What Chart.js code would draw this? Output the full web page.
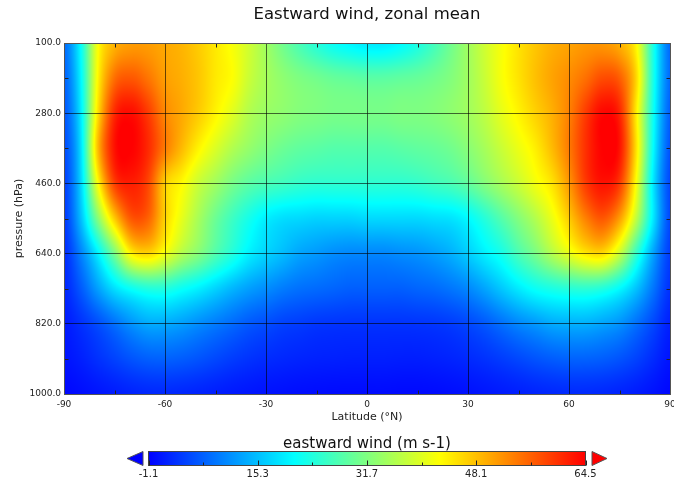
<!DOCTYPE html>
<html>
<head>
<meta charset="utf-8">
<script src="https://cdn.jsdelivr.net/npm/chart.js@4.4.1/dist/chart.umd.min.js"></script>
<style>
  html, body { margin: 0; padding: 0; background: #ffffff; }
  #wrap { width: 674px; height: 485px; position: relative; }
</style>
</head>
<body>
<div id="wrap"><canvas id="chart" width="674" height="485"></canvas></div>
<script>
// Zonal-mean eastward wind (m s-1) on a latitude / pressure grid
const latitudes = [-90, -85, -80, -75, -70, -65, -60, -55, -50, -45, -40, -35, -30, -25, -20, -15, -10, -5, 0,
                   5, 10, 15, 20, 25, 30, 35, 40, 45, 50, 55, 60, 65, 70, 75, 80, 85, 90];
const pressureLevels = [100, 190, 280, 370, 460, 550, 640, 730, 820, 910, 1000];

const u100  = [8, 21, 42, 49, 51, 51, 50, 49, 47, 44.5, 42, 38.5, 34.5, 30.5, 27, 24, 21.5, 20, 19,
               19, 20.5, 23, 26.5, 30.5, 34.5, 38.5, 42, 45, 47.5, 49.5, 50.5, 51.5, 51.5, 49.5, 43, 23, 8];
const u190  = [7, 20, 43, 55, 57, 54.5, 51, 49.5, 47.5, 44.5, 42.5, 38, 35, 33, 31.5, 30.5, 29.5, 29, 28.5,
               28.5, 29, 29.5, 30.5, 32, 34.5, 38, 42, 45, 48, 50.5, 52.5, 55, 58, 56.5, 46, 23, 8];
const u280  = [6, 19, 45, 61, 63.5, 59.5, 53, 50, 47, 43.5, 40, 36, 34, 33, 32, 31.5, 31, 31, 31,
               31, 31.5, 31.5, 32, 33, 34.5, 37, 40.5, 43.5, 46.5, 49.5, 53.5, 59.5, 64, 61.5, 44, 22, 7];
const u370  = [5, 18, 48, 63, 64.5, 61, 54, 48.5, 43.5, 39.5, 36, 33.5, 31.5, 30, 29, 28.5, 28, 28, 28,
               28, 28.5, 29, 29.5, 30.5, 32.5, 35, 38, 41, 44, 48.5, 54, 60.5, 64.5, 63, 45, 21, 6];
const u460  = [4, 17, 42, 59, 62, 58.5, 47, 43, 38, 34.5, 31, 28.5, 27, 26, 25, 24.5, 24.5, 24.5, 24.5,
               24.5, 24.5, 25, 26, 27, 29, 32, 35, 38, 41.5, 45, 51.5, 59.5, 63, 59.5, 42, 19, 5];
const u550  = [3.5, 15, 32, 47, 57, 56, 46.5, 40.5, 35, 30, 26, 22.5, 19.5, 18, 17.5, 17, 17, 17, 17.5,
               17.5, 17.5, 17.5, 18, 18.5, 20.5, 24, 28, 32, 36, 41, 47, 53.5, 57, 51, 37, 19, 5];
const u640  = [2.5, 10, 19.5, 31, 43.5, 46, 41.5, 36, 32, 27.5, 23.5, 19.5, 17, 15, 13, 12, 11, 10.5, 10.5,
               10.5, 11, 11.5, 12.5, 14, 16.5, 19.5, 22.5, 27, 31, 36, 40.5, 44.5, 45.5, 38, 25, 13, 4];
const u730  = [2, 6.5, 12.5, 18, 21.5, 23.5, 23.5, 21.5, 19.5, 17, 14.5, 12.5, 11, 9.5, 8.5, 8, 7.5, 7, 7,
               7, 7, 7.5, 8, 9, 10.5, 13, 16, 19, 21.5, 23, 24, 24.5, 23.5, 20.5, 15.5, 9, 3];
const u820  = [1, 3, 5.5, 8.5, 11.5, 13.5, 13.5, 12.5, 11, 9.5, 8, 6.5, 5.5, 4.5, 4, 3.5, 3.3, 3.2, 3.2,
               3.2, 3.2, 3.3, 3.5, 4, 5, 6.5, 8.5, 10.5, 12, 13.5, 14, 14, 13, 11.5, 8.5, 5, 1.5];
const u910  = [0.5, 1.5, 3, 4.5, 6, 7, 7.2, 6.8, 6, 5, 4, 3.2, 2.6, 2.2, 1.9, 1.7, 1.6, 1.5, 1.5,
               1.5, 1.4, 1.4, 1.6, 1.9, 2.4, 3.1, 4, 5, 6, 6.8, 7.3, 7.3, 6.9, 6, 4.5, 2.5, 0.5];
const u1000 = [-0.5, 0, 0.6, 1.2, 1.8, 2.2, 2.3, 2.1, 1.8, 1.4, 1, 0.7, 0.4, 0.2, 0, -0.1, -0.2, -0.2, -0.2,
               -0.2, -0.3, -0.3, -0.2, 0, 0.3, 0.7, 1.1, 1.5, 1.9, 2.2, 2.4, 2.4, 2.2, 1.8, 1.2, 0.4, -0.5];

const windRows = [u100, u190, u280, u370, u460, u550, u640, u730, u820, u910, u1000];

const latitudeTicks = [-90, -60, -30, 0, 30, 60, 90];
const latitudeMinorTicks = [-75, -45, -15, 15, 45, 75];
const pressureTicks = [100, 280, 460, 640, 820, 1000];
const pressureMinorTicks = [190, 370, 550, 730, 910];
const colorbarTicks = [-1.1, 15.3, 31.7, 48.1, 64.5];
const colorRange = [-1.1, 64.5];
const colormapStops = [[0, 0, 255], [0, 255, 255], [255, 255, 0], [255, 0, 0]];

const FONT = 'DejaVu Sans';

function colourOf(v) {
  const t = Math.min(1, Math.max(0, (v - colorRange[0]) / (colorRange[1] - colorRange[0])));
  const n = colormapStops.length - 1;
  const s = t * n;
  const i = Math.min(n - 1, Math.floor(s));
  const f = s - i;
  const a = colormapStops[i], b = colormapStops[i + 1];
  return [a[0] + (b[0] - a[0]) * f, a[1] + (b[1] - a[1]) * f, a[2] + (b[2] - a[2]) * f];
}

// Cubic (Catmull-Rom) weights and clamped neighbour indices for a position on a grid axis
function stencil(arr, v) {
  let i = 0;
  while (i < arr.length - 2 && v > arr[i + 1]) i++;
  const t = Math.min(1, Math.max(0, (v - arr[i]) / (arr[i + 1] - arr[i])));
  const t2 = t * t, t3 = t2 * t;
  const w = [(-t3 + 2 * t2 - t) / 2, (3 * t3 - 5 * t2 + 2) / 2, (-3 * t3 + 4 * t2 + t) / 2, (t3 - t2) / 2];
  const last = arr.length - 1;
  const idx = [Math.max(0, i - 1), i, i + 1, Math.min(last, i + 2)];
  return { idx, w };
}

// Shaded field, drawn first so the grid and axes sit on top of it
const fieldPlugin = {
  id: 'windField',
  beforeDraw(chart) {
    const { ctx, chartArea: a, scales: { x, y } } = chart;
    const x0 = Math.floor(a.left), x1 = Math.ceil(a.right);
    const y0 = Math.floor(a.top), y1 = Math.ceil(a.bottom);
    const w = x1 - x0 + 1, h = y1 - y0 + 1;
    const img = ctx.createImageData(w, h);
    const cols = [];
    for (let i = 0; i < w; i++) cols.push(stencil(latitudes, x.getValueForPixel(x0 + i + 0.5)));
    for (let j = 0; j < h; j++) {
      const rs = stencil(pressureLevels, y.getValueForPixel(y0 + j + 0.5));
      for (let i = 0; i < w; i++) {
        const cs = cols[i];
        let v = 0;
        for (let m = 0; m < 4; m++) {
          const row = windRows[rs.idx[m]];
          let rv = 0;
          for (let n = 0; n < 4; n++) rv += row[cs.idx[n]] * cs.w[n];
          v += rv * rs.w[m];
        }
        const rgb = colourOf(v);
        const k = (j * w + i) * 4;
        img.data[k] = rgb[0]; img.data[k + 1] = rgb[1]; img.data[k + 2] = rgb[2]; img.data[k + 3] = 255;
      }
    }
    ctx.putImageData(img, x0, y0);
  }
};

// Frame, inner minor ticks and the colour bar
const decorPlugin = {
  id: 'decor',
  afterDraw(chart) {
    const { ctx, chartArea: a, scales: { x, y } } = chart;
    ctx.save();
    const L = Math.round(a.left) + 0.5, R = Math.round(a.right) + 0.5;
    const T = Math.round(a.top) + 0.5, B = Math.round(a.bottom) + 0.5;
    ctx.strokeStyle = '#222';
    ctx.lineWidth = 1;
    ctx.beginPath();
    latitudeMinorTicks.forEach(v => {
      const px = Math.round(x.getPixelForValue(v)) + 0.5;
      ctx.moveTo(px, B); ctx.lineTo(px, B - 4);
      ctx.moveTo(px, T); ctx.lineTo(px, T + 4);
    });
    pressureMinorTicks.forEach(v => {
      const py = Math.round(y.getPixelForValue(v)) + 0.5;
      ctx.moveTo(L, py); ctx.lineTo(L + 4, py);
      ctx.moveTo(R, py); ctx.lineTo(R - 4, py);
    });
    ctx.stroke();
    ctx.strokeStyle = '#555';
    ctx.strokeRect(L, T, R - L, B - T);

    // colour bar
    const cb = { left: 148.5, right: 585.5, top: 451.5, bottom: 465.5 };
    const span = colorRange[1] - colorRange[0];
    const toX = v => cb.left + (v - colorRange[0]) / span * (cb.right - cb.left);
    const g = ctx.createLinearGradient(cb.left, 0, cb.right, 0);
    colormapStops.forEach((c, i) => g.addColorStop(i / (colormapStops.length - 1), `rgb(${c[0]},${c[1]},${c[2]})`));
    ctx.fillStyle = g;
    ctx.fillRect(cb.left, cb.top, cb.right - cb.left, cb.bottom - cb.top);
    ctx.strokeStyle = '#444';
    ctx.strokeRect(cb.left, cb.top, cb.right - cb.left, cb.bottom - cb.top);

    const lo = colormapStops[0], hi = colormapStops[colormapStops.length - 1];
    const mid = (cb.top + cb.bottom) / 2;
    ctx.beginPath();
    ctx.moveTo(127, mid); ctx.lineTo(143, cb.top); ctx.lineTo(143, cb.bottom); ctx.closePath();
    ctx.fillStyle = `rgb(${lo[0]},${lo[1]},${lo[2]})`;
    ctx.fill(); ctx.strokeStyle = '#555'; ctx.stroke();
    ctx.beginPath();
    ctx.moveTo(592, cb.top); ctx.lineTo(592, cb.bottom); ctx.lineTo(607, mid); ctx.closePath();
    ctx.fillStyle = `rgb(${hi[0]},${hi[1]},${hi[2]})`;
    ctx.fill(); ctx.stroke();

    ctx.strokeStyle = '#222';
    ctx.beginPath();
    colorbarTicks.forEach((v, i) => {
      const px = Math.round(toX(v)) + 0.5;
      ctx.moveTo(px, cb.bottom); ctx.lineTo(px, cb.bottom - 5);
      if (i < colorbarTicks.length - 1) {
        const pm = Math.round(toX((v + colorbarTicks[i + 1]) / 2)) + 0.5;
        ctx.moveTo(pm, cb.bottom); ctx.lineTo(pm, cb.bottom - 3);
      }
    });
    ctx.stroke();

    ctx.fillStyle = '#222';
    ctx.font = `10px "${FONT}"`;
    ctx.textAlign = 'center';
    ctx.textBaseline = 'middle';
    colorbarTicks.forEach(v => ctx.fillText(v.toFixed(1), toX(v), 474));

    ctx.fillStyle = '#111';
    ctx.font = `15px "${FONT}"`;
    ctx.textBaseline = 'alphabetic';
    ctx.fillText('eastward wind (m s-1)', (cb.left + cb.right) / 2, 447.5);
    ctx.restore();
  }
};

new Chart(document.getElementById('chart'), {
  type: 'scatter',
  data: { datasets: [] },
  plugins: [fieldPlugin, decorPlugin],
  options: {
    responsive: false,
    devicePixelRatio: 1,
    animation: false,
    layout: { padding: { left: 0, right: 4, top: 0, bottom: 61 } },
    plugins: {
      legend: { display: false },
      tooltip: { enabled: false },
      title: {
        display: true,
        fullSize: false,
        text: 'Eastward wind, zonal mean',
        color: '#111',
        font: { family: FONT, size: 16.5, weight: 'normal', lineHeight: 1.2 },
        padding: { top: 4.7, bottom: 18.5 }
      }
    },
    scales: {
      x: {
        type: 'linear', position: 'bottom', min: -90, max: 90,
        afterBuildTicks: s => { s.ticks = latitudeTicks.map(v => ({ value: v })); },
        afterFit: s => { s.height = 30; s.paddingLeft = 0; s.paddingRight = 0; },
        ticks: { color: '#222', font: { family: FONT, size: 9 }, padding: 5, maxRotation: 0, autoSkip: false,
                 callback: v => String(v) },
        grid: { color: 'rgba(0,0,0,0.6)', lineWidth: 1, drawTicks: false },
        border: { display: true, color: '#555', width: 1 },
        title: { display: true, text: 'Latitude (°N)', color: '#222',
                 font: { family: FONT, size: 11, lineHeight: 1.2 }, padding: { top: 0, bottom: 0 } }
      },
      y: {
        type: 'linear', position: 'left', reverse: true, min: 100, max: 1000,
        afterBuildTicks: s => { s.ticks = pressureTicks.map(v => ({ value: v })); },
        afterFit: s => { s.width = 64; s.paddingTop = 0; s.paddingBottom = 0; },
        ticks: { color: '#222', font: { family: FONT, size: 9 }, padding: 3, autoSkip: false,
                 callback: v => Number(v).toFixed(1) },
        grid: { color: 'rgba(0,0,0,0.6)', lineWidth: 1, drawTicks: false },
        border: { display: true, color: '#555', width: 1 },
        title: { display: true, text: 'pressure (hPa)', color: '#222',
                 font: { family: FONT, size: 11, lineHeight: 1.2 }, padding: { top: 12.4, bottom: 0 } }
      }
    }
  }
});
</script>
</body>
</html>
